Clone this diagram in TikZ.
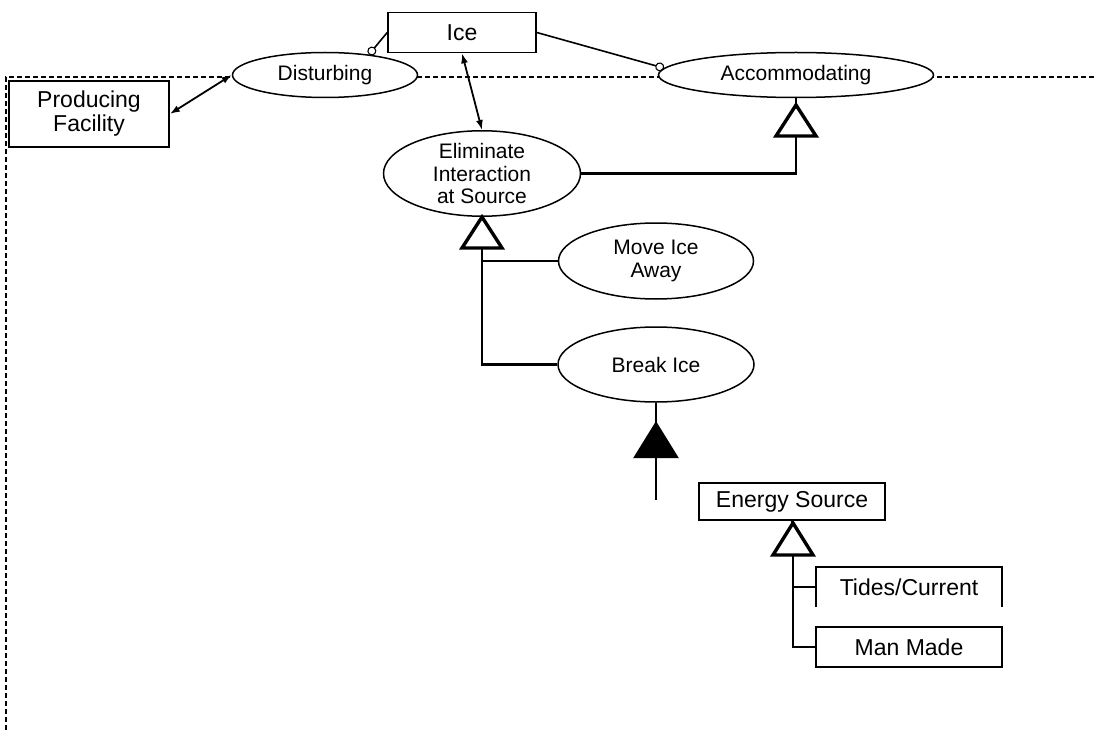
\documentclass[tikz,border=0pt]{standalone}
\usepackage{fontspec}
\setmainfont{Liberation Sans}
\usetikzlibrary{shapes.geometric,arrows.meta}

\tikzset{
  box/.style={draw, line width=1.6pt, fill=white, inner sep=0pt, align=center,
              font=\fontsize{23}{24}\selectfont},
  usecase/.style={ellipse, draw, line width=1.5pt, fill=white, inner sep=0pt,
                  align=center, font=\fontsize{21}{22.5}\selectfont},
  assoc/.style={line width=1.8pt, {Latex[length=10pt,width=7pt]}-{Latex[length=10pt,width=7pt]}},
  link/.style={line width=1.6pt, -{Circle[open,length=9pt,width=9pt,line width=1.1pt]}},
  gen/.style={line width=3.4pt, line join=miter, fill=white},
  genfill/.style={line width=2pt, line join=miter, fill=black},
  genline/.style={line width=2.8pt},
  boundary/.style={line width=1.5pt, dash pattern=on 5pt off 3pt}
}

\begin{document}
\begin{tikzpicture}[x=1pt, y=-1pt]
\useasboundingbox (0,0) rectangle (1094,730);

% system boundary
\coordinate (bR) at (1094,77);
\coordinate (bC) at (6,77);
\coordinate (bB) at (6,730);
\draw[boundary] (bR) -- (bC) -- (bB);

% actors and classes
\node[box, minimum width=148pt, minimum height=40pt] (ice) at (462,32.5) {Ice};
\node[box, minimum width=160pt, minimum height=66pt] (pf) at (89,114) {Producing\\Facility};
\node[box, minimum width=186pt, minimum height=37pt] (energy) at (792,501.5) {Energy Source};
\node[inner sep=0pt, minimum width=186pt, minimum height=40pt,
      font=\fontsize{23}{24}\selectfont] (tides) at (909,587) {Tides/Current};
\draw[line width=1.6pt] (tides.south west) -- (tides.north west) -- (tides.north east) -- (tides.south east);
\node[box, minimum width=186pt, minimum height=40pt] (man) at (909,647) {Man Made};

% use cases
\node[usecase, minimum width=185pt, minimum height=45pt] (dist) at (325,75) {Disturbing};
\node[usecase, minimum width=275pt, minimum height=45pt] (acc) at (796,75) {Accommodating};
\node[usecase, minimum width=197pt, minimum height=77pt] (elim) at (482,173.5) {Eliminate\\Interaction\\at Source};
\node[usecase, minimum width=195pt, minimum height=76pt] (move) at (656,261) {Move Ice\\Away};
\node[usecase, minimum width=196pt, minimum height=75pt] (brk) at (656,364.5) {Break Ice};

% associations
\draw[assoc] (pf.east) -- (dist.west);
\draw[assoc] (ice.south) -- (elim.north);
\draw[link] (ice.west) -- (dist.25);
\draw[link] (ice.east) -- (acc.177);

% generalization: Eliminate Interaction -> Accommodating
\coordinate (ga) at (796,105);
\coordinate (gab) at (796,136);
\draw[genline] (acc.south) -- (ga);
\draw[genline] (elim.east) -| (gab);
\draw[gen] (ga) -- ++(-20,31) -- ++(40,0) -- cycle;

% generalization: Move Ice Away, Break Ice -> Eliminate Interaction
\coordinate (ge) at (482,217);
\coordinate (geb) at (482,248);
\draw[genline] (elim.south) -- (ge);
\draw[genline] (geb) |- (brk.west);
\draw[genline] (move.west) -- (move.west -| geb);
\draw[gen] (ge) -- ++(-20,31) -- ++(40,0) -- cycle;

% filled triangle below Break Ice
\coordinate (gf) at (656,423);
\coordinate (gfb) at (656,457);
\coordinate (gfend) at (656,500);
\draw[genline] (brk.south) -- (gf);
\draw[genline] (gfb) -- (gfend);
\draw[genfill] (gf) -- ++(-21,34) -- ++(42,0) -- cycle;

% generalization: Tides/Current, Man Made -> Energy Source
\coordinate (gs) at (793,523);
\coordinate (gsb) at (793,555);
\draw[genline] (energy.south) -- (gs);
\draw[genline] (gsb) |- (man.west);
\draw[genline] (tides.west) -- (tides.west -| gsb);
\draw[gen] (gs) -- ++(-20,32) -- ++(40,0) -- cycle;
\end{tikzpicture}
\end{document}
